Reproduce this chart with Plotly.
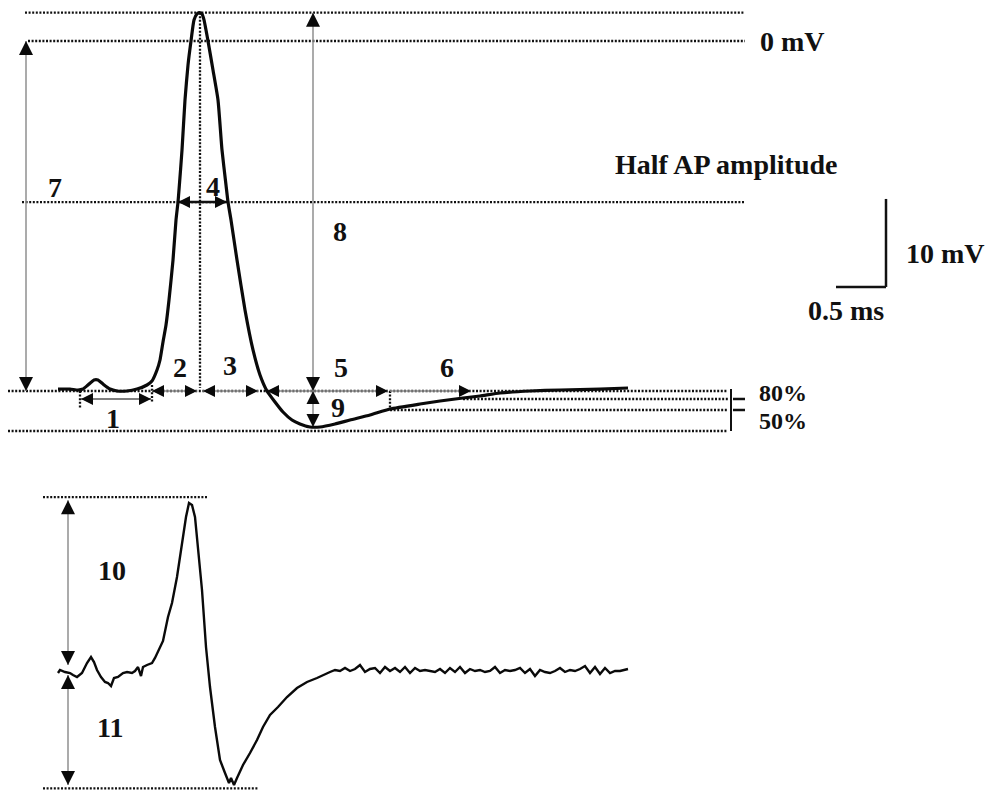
import plotly.graph_objects as go

# ---------------- data ----------------
# Upper trace: action potential, time (ms) and membrane potential (mV)
ap_time = [0.00, 0.12, 0.20, 0.25, 0.30, 0.36, 0.40, 0.45, 0.52, 0.59,
           0.69, 0.79, 0.89, 0.94, 0.99, 1.02, 1.05, 1.08, 1.11, 1.15,
           1.18, 1.20, 1.21, 1.24, 1.27, 1.30, 1.33, 1.36, 1.39, 1.415,
           1.44, 1.46, 1.50, 1.55, 1.60, 1.64, 1.68, 1.70, 1.73, 1.79,
           1.87, 1.95, 2.02, 2.09, 2.17, 2.25, 2.34, 2.42, 2.52, 2.62,
           2.77, 2.92, 3.12, 3.32, 3.62, 3.82, 4.05, 4.22, 4.42, 4.72,
           5.02, 5.42, 5.70]
ap_mv = [-39.55, -39.55, -39.66, -39.55, -39.09, -38.52, -38.52, -38.98, -39.55, -39.77,
         -39.77, -39.55, -39.09, -38.64, -37.39, -36.25, -34.20, -32.27, -29.43, -24.89,
         -20.34, -18.30, -16.93, -12.39, -6.70, -2.73, 0.00, 2.39, 3.07, 3.22,
         3.07, 2.39, 0.00, -3.30, -6.70, -12.39, -16.36, -18.30, -20.34, -24.89,
         -30.57, -35.11, -37.95, -39.77, -41.02, -42.16, -43.07, -43.52, -43.86, -43.86,
         -43.52, -43.07, -42.50, -41.82, -41.25, -40.91, -40.57, -40.34, -40.00, -39.77,
         -39.66, -39.55, -39.43]

# Lower trace: dV/dt (V/s) vs time (ms)
dvdt_time = [0.00, 0.02, 0.07, 0.12, 0.15, 0.19, 0.24, 0.29, 0.33, 0.36,
             0.39, 0.43, 0.47, 0.50, 0.53, 0.56, 0.60, 0.65, 0.69, 0.74,
             0.77, 0.80, 0.83, 0.85, 0.89, 0.94, 0.97, 1.00, 1.05, 1.10,
             1.14, 1.19, 1.24, 1.28, 1.31, 1.34, 1.37, 1.40, 1.44, 1.48,
             1.52, 1.57, 1.62, 1.67, 1.71, 1.73, 1.76, 1.79, 1.85, 1.92,
             1.99, 2.05, 2.12, 2.20, 2.29, 2.39, 2.49, 2.59, 2.69,
             2.72, 2.77, 2.82, 2.87, 2.92, 2.97, 3.02, 3.07, 3.12, 3.17,
             3.22, 3.27, 3.32, 3.37, 3.42, 3.47, 3.52, 3.57, 3.62, 3.67,
             3.72, 3.77, 3.82, 3.87, 3.92, 3.97, 4.02, 4.07, 4.12, 4.17,
             4.22, 4.27, 4.32, 4.37, 4.42, 4.47, 4.52, 4.57, 4.62, 4.67,
             4.72, 4.77, 4.82, 4.87, 4.92, 4.97, 5.02, 5.07, 5.12, 5.17,
             5.22, 5.27, 5.32, 5.37, 5.42, 5.47, 5.52, 5.57, 5.62, 5.67,
             5.70]
dvdt_val = [-0.59, 1.18, 0.00, -0.59, -1.76, -2.94, -0.59, 5.29, 8.82, 5.88,
            1.18, -2.94, -5.88, -6.47, -8.24, -3.53, -2.94, -0.59, 0.00, -0.59,
            0.59, 2.94, -2.35, 2.94, 4.12, 5.29, 8.24, 11.76, 18.24, 32.35,
            40.59, 55.88, 75.88, 91.18, 99.41, 98.24, 91.18, 73.53, 48.24, 14.71,
            -8.82, -32.35, -51.76, -59.41, -65.29, -62.35, -66.47, -62.35, -54.71, -47.65,
            -40.00, -32.35, -25.29, -20.59, -14.71, -9.41, -5.88, -3.53, -0.59,
            0.00, 1.18, 0.59, 2.35, 0.59, 1.76, 4.12, 0.00, 1.76, 2.35,
            -0.59, 2.94, 0.59, 2.35, 0.00, 2.94, -0.59, 2.35, 0.59, 1.18,
            0.59, 0.00, 1.76, -0.59, 2.35, 0.00, 2.94, -0.59, 1.76, 0.59,
            1.18, 0.00, 0.59, 2.94, -0.59, 1.18, 0.59, 1.18, 2.35, -0.59,
            1.76, -2.35, 1.18, 0.00, -0.59, 0.59, 2.35, 0.00, 1.18, 0.59,
            1.76, 3.53, -0.59, 2.94, -1.18, 2.35, -0.59, 0.59, 0.59, 1.18,
            1.76]

# Reference levels of the upper trace (mV)
v_peak = 3.22
v_zero = 0.0
v_half = -18.30
v_thresh = -39.77
v_80 = -40.68
v_50 = -41.93
v_ahp = -44.32
v_trough = -43.86

# Reference levels of the lower trace (V/s)
d_peak = 102.9
d_base = 0.0
d_trough = -68.5

# Characteristic times (ms)
t_start_thr = 0.22     # start of parameter 1
t_thresh = 0.94        # threshold
t_peak = 1.42          # AP peak
t_half_up = 1.20       # half amplitude rising
t_half_down = 1.70     # half amplitude falling
t_repol = 2.09         # return to threshold level
t_trough = 2.55        # AHP trough
t_ahp50 = 3.32         # 50% AHP recovery
t_ahp80 = 4.05         # 80% AHP recovery

# ---------------- figure ----------------
fig = go.Figure()

FONT = dict(family="Liberation Serif, Times New Roman, serif", size=28, color="#111111")
FONT_SMALL = dict(family="Liberation Serif, Times New Roman, serif", size=24, color="#111111")
DOT = dict(color="#111111", width=2.3, dash="2px,1.6px")
SHAFT = "#8f8f8f"

fig.add_trace(go.Scatter(x=ap_time, y=ap_mv, mode="lines", yaxis="y",
                         line=dict(color="#0a0a0a", width=3.2, shape="spline", smoothing=0.5),
                         hoverinfo="skip"))
fig.add_trace(go.Scatter(x=dvdt_time, y=dvdt_val, mode="lines", yaxis="y2",
                         line=dict(color="#0a0a0a", width=2.4),
                         hoverinfo="skip"))

shapes = []


def seg(x0, y0, x1, y1, yref="y", line=None):
    shapes.append(dict(type="line", xref="x", yref=yref, x0=x0, y0=y0, x1=x1, y1=y1,
                       line=line, layer="below"))


# dotted horizontal reference lines (upper)
seg(-0.33, v_peak, 6.87, v_peak, line=DOT)
seg(-0.30, v_zero, 6.87, v_zero, line=DOT)
seg(-0.36, v_half, 6.87, v_half, line=DOT)
seg(-0.50, v_thresh, 6.70, v_thresh, line=DOT)
seg(t_ahp80, v_80, 6.70, v_80, line=DOT)
seg(t_ahp50, v_50, 6.70, v_50, line=DOT)
seg(-0.50, v_ahp, 6.70, v_ahp, line=DOT)
# dotted vertical markers
seg(t_peak, v_peak, t_peak, -39.4, line=DOT)
seg(t_start_thr, v_thresh, t_start_thr, -41.7, line=DOT)
seg(t_thresh, -39.1, t_thresh, -41.0, line=DOT)
seg(t_ahp50, v_thresh, t_ahp50, v_50, line=DOT)
# lower dotted lines
seg(-0.15, d_peak, 1.49, d_peak, yref="y2", line=DOT)
seg(-0.15, d_trough, 2.00, d_trough, yref="y2", line=DOT)

# bracket for 80% / 50%
seg(6.73, -39.55, 6.73, v_ahp, line=dict(color="#111111", width=2))
seg(6.75, v_80, 6.87, v_80, line=dict(color="#111111", width=2.5))
seg(6.75, v_50, 6.87, v_50, line=dict(color="#111111", width=2.5))

# scale bar: 10 mV and 0.5 ms
seg(8.28, -17.95, 8.28, -27.95, line=dict(color="#111111", width=2.5))
seg(7.78, -27.95, 8.28, -27.95, line=dict(color="#111111", width=2.5))

heads = {}


def arrow(x0, y0, x1, y1, yref="y", both=True, color=SHAFT, width=1.5, size=12):
    seg(x0, y0, x1, y1, yref=yref, line=dict(color=color, width=width))
    ends = [(x1, y1, x0, y0)]
    if both:
        ends.append((x0, y0, x1, y1))
    for (xa, ya, xb, yb) in ends:
        if xa == xb:
            sym = "arrow-up" if ya > yb else "arrow-down"
        else:
            sym = "arrow-right" if xa > xb else "arrow-left"
        key = (yref, sym, size)
        heads.setdefault(key, ([], []))
        heads[key][0].append(xa)
        heads[key][1].append(ya)


arrow(-0.32, v_thresh, -0.32, v_zero, size=14)                  # 7
arrow(t_trough, v_thresh, t_trough, v_peak, size=14)            # 8
arrow(t_trough, v_thresh, t_trough, v_trough, size=13)          # 9
arrow(0.23, v_80, 0.93, v_80, color="#555555", size=12)          # 1
arrow(t_thresh, v_thresh, 1.39, v_thresh, size=12)               # 2
arrow(1.45, v_thresh, 2.00, v_thresh, size=12)                   # 3
arrow(t_half_up, v_half, 1.69, v_half, color="#111111", width=2.5, size=12)  # 4
arrow(t_repol, v_thresh, 3.30, v_thresh, size=12)                # 5
arrow(t_ahp50, v_thresh, 4.13, v_thresh, both=False, size=12)    # 6
arrow(0.10, 101.0, 0.10, 4.1, yref="y2", size=14)                # 10
arrow(0.10, -1.8, 0.10, -66.5, yref="y2", size=14)               # 11

for (yref, sym, size), (xs, ys) in heads.items():
    fig.add_trace(go.Scatter(x=xs, y=ys, mode="markers", yaxis=yref,
                             marker=dict(symbol=sym, size=size, color="#0a0a0a",
                                         line=dict(width=0)),
                             hoverinfo="skip"))

annotations = []


def label(text, x, y, yref="y", xanchor="center", font=FONT):
    annotations.append(dict(text="<b>%s</b>" % text, x=x, y=y, xref="x", yref=yref,
                            xanchor=xanchor, yanchor="middle", showarrow=False, font=font))


label("0 mV", 7.00, v_zero, xanchor="left")
label("Half AP amplitude", 6.68, -14.09)
label("10 mV", 8.87, -24.09)
label("0.5 ms", 7.88, -30.68)
label("80%", 7.25, -40.0, font=FONT_SMALL)
label("50%", 7.25, -43.2, font=FONT_SMALL)
label("7", -0.03, -16.59)
label("4", 1.55, -16.48)
label("8", 2.82, -21.70)
label("2", 1.22, -37.05)
label("3", 1.72, -36.82)
label("5", 2.83, -37.05)
label("6", 3.89, -37.05)
label("1", 0.55, -42.84)
label("9", 2.80, -41.59)
label("10", 0.54, 60.0, yref="y2")
label("11", 0.52, -32.9, yref="y2")

fig.update_layout(
    width=990, height=795,
    margin=dict(l=0, r=0, t=0, b=0),
    paper_bgcolor="white", plot_bgcolor="white",
    showlegend=False,
    shapes=shapes, annotations=annotations,
    xaxis=dict(range=[-0.58, 9.32], visible=False, fixedrange=True),
    yaxis=dict(range=[-85.68, 4.659], visible=False, fixedrange=True),
    yaxis2=dict(range=[-72.35, 395.29], overlaying="y", visible=False, fixedrange=True),
)

fig.write_html("out.html", config={"displayModeBar": False},
               post_script="document.body.style.margin='0';")
